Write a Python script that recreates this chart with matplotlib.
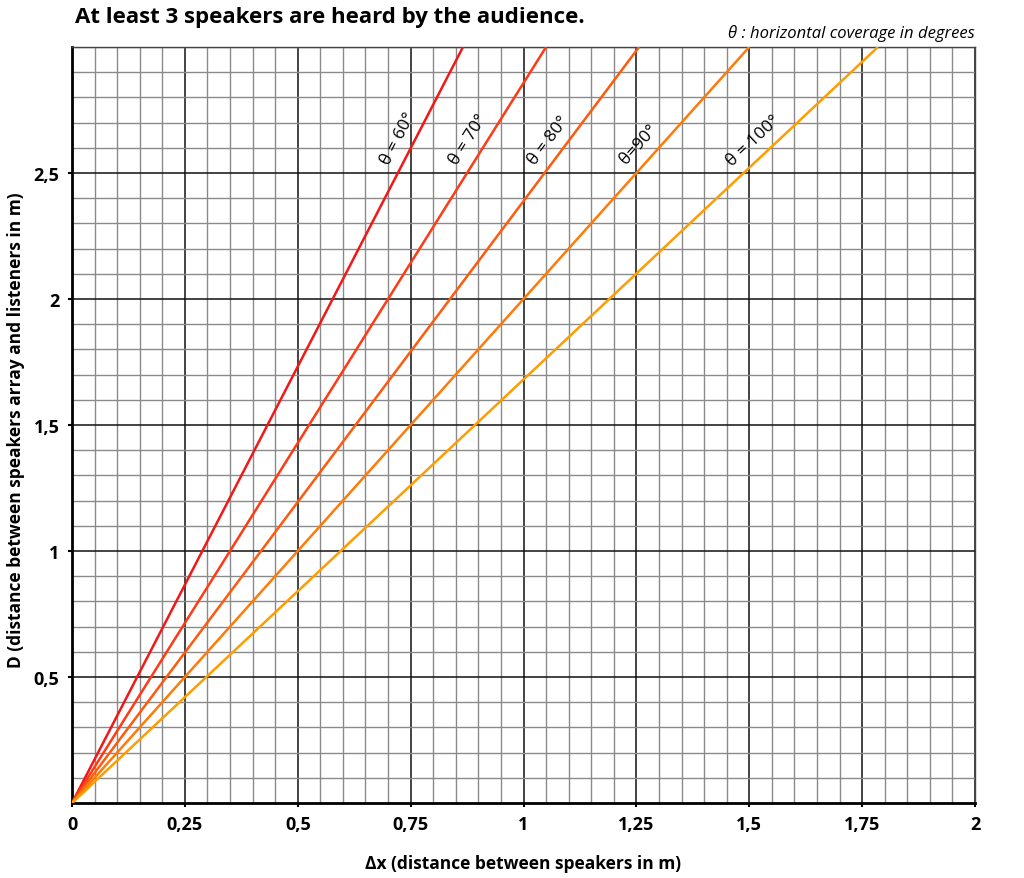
import numpy as np
import matplotlib.pyplot as plt
from matplotlib.ticker import MultipleLocator

plt.rcParams['font.family'] = ['Open Sans', 'DejaVu Sans']

# coverage angles and where each line meets the top edge (D = 3 m)
angles = [60, 70, 80, 90, 100]
x_top = [0.866, 1.05, 1.256, 1.5, 1.785]
d_top = [3, 3, 3, 3, 3]
colors = ['#f21818', '#ff3a14', '#ff5a0c', '#ff7a06', '#ff9c00']
line_labels = ['θ = 60°', 'θ = 70°', 'θ = 80°', 'θ=90°', 'θ = 100°']
# label centres
label_x = [0.722, 0.878, 1.056, 1.255, 1.51]
label_y = [2.64, 2.635, 2.63, 2.615, 2.63]

xticks = [0, 0.25, 0.5, 0.75, 1, 1.25, 1.5, 1.75, 2]
xtick_labels = ['0', '0,25', '0,5', '0,75', '1', '1,25', '1,5', '1,75', '2']
yticks = [0.5, 1, 1.5, 2, 2.5]
ytick_labels = ['0,5', '1', '1,5', '2', '2,5']

fig = plt.figure(figsize=(10.24, 8.79), dpi=100)
ax = fig.add_axes([72 / 1024, 75 / 879, 903 / 1024, 756 / 879])

ax.set_xlim(0, 2)
ax.set_ylim(0, 3)

# grid: thin grey every 0.05 / 0.1, black on major ticks
ax.xaxis.set_minor_locator(MultipleLocator(0.05))
ax.yaxis.set_minor_locator(MultipleLocator(0.1))
ax.set_xticks(xticks)
ax.set_xticklabels(xtick_labels)
ax.set_yticks(yticks)
ax.set_yticklabels(ytick_labels)
ax.grid(which='minor', color='#8a8a8a', linewidth=1.0)
ax.grid(which='major', color='#111111', linewidth=1.1)
ax.set_axisbelow(True)

for a, xe, ye, c in zip(angles, x_top, d_top, colors):
    ax.plot([0, xe], [0, ye], color=c, linewidth=1.8, solid_capstyle='butt', zorder=3)

for lab, lx, ly, xe, ye in zip(line_labels, label_x, label_y, x_top, d_top):
    rot = np.degrees(np.arctan2(ye, xe))
    ax.text(lx, ly, lab, rotation=rot, transform_rotates_text=True,
            rotation_mode='anchor', ha='center', va='center',
            fontsize=12.5, color='black', zorder=4)

for side in ['left', 'bottom']:
    ax.spines[side].set_linewidth(2)
    ax.spines[side].set_color('black')
for side in ['top', 'right']:
    ax.spines[side].set_linewidth(1)
    ax.spines[side].set_color('#444444')

ax.tick_params(which='minor', length=0)
ax.tick_params(which='major', length=3, width=1.5, direction='out', pad=6,
               labelsize=13)
for t in ax.get_xticklabels() + ax.get_yticklabels():
    t.set_fontweight('bold')

ax.set_xlabel('Δx (distance between speakers in m)', fontsize=12.5,
              fontweight='bold')
ax.set_ylabel('D (distance between speakers array and listeners in m)',
              fontsize=12.5, fontweight='bold')
ax.xaxis.set_label_coords(0.5, -51 / 756)
ax.yaxis.set_label_coords(-47 / 903, 0.495)

fig.text(75 / 1024, 1 - 18 / 879, 'At least 3 speakers are heard by the audience.',
         fontsize=16, fontweight='bold', ha='left', va='center')
fig.text(975 / 1024, 1 - 34 / 879, 'θ : horizontal coverage in degrees',
         fontsize=12, fontstyle='italic', ha='right', va='center')

fig.savefig('out.png', dpi=100)
